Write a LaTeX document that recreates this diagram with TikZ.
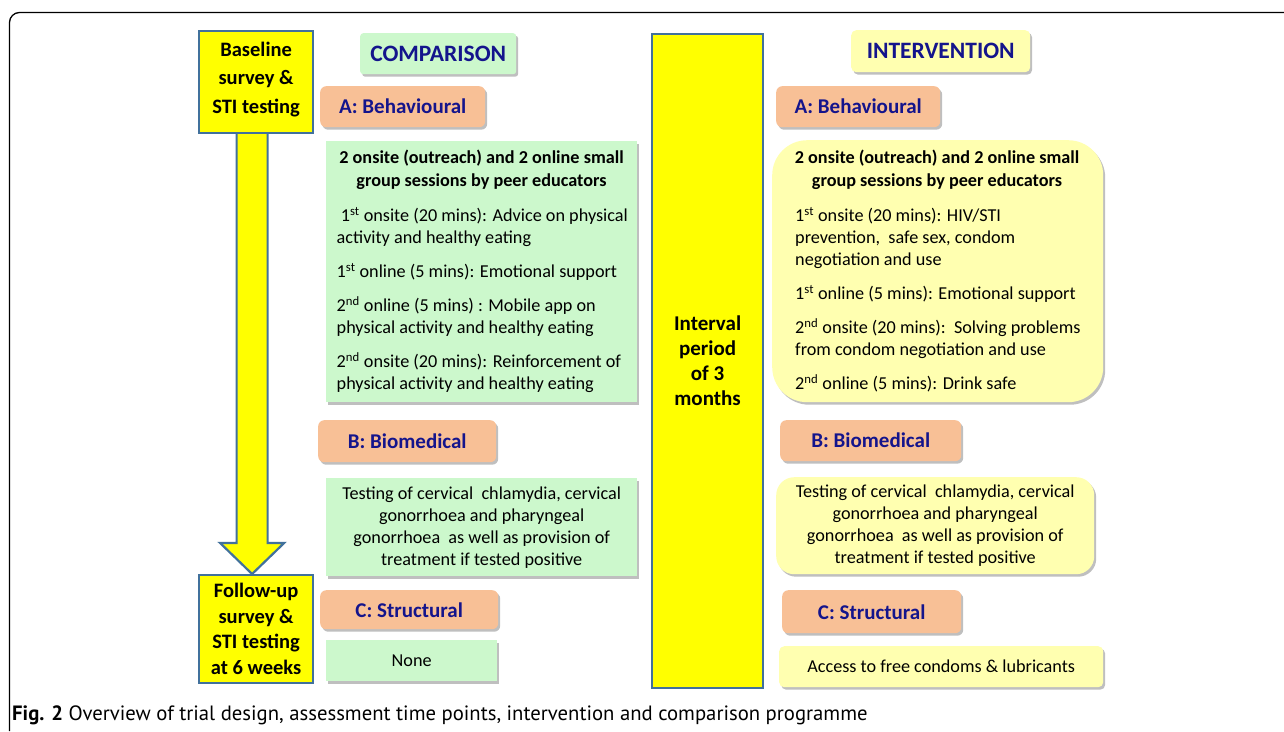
\documentclass[tikz,border=0pt]{standalone}
\usepackage{fontspec}
\setmainfont{Carlito}
\newfontfamily\capfont{PT Sans}
\usetikzlibrary{shadows,calc}
\definecolor{bordblue}{HTML}{41719C}
\definecolor{ltgreen}{HTML}{CCF8CC}
\definecolor{ltyellow}{HTML}{FFFFB0}
\definecolor{salmon}{HTML}{F8C096}
\definecolor{navytxt}{HTML}{14148C}
\definecolor{pureyellow}{HTML}{FFFF00}
\tikzset{
  shad/.style={drop shadow={shadow xshift=2pt,shadow yshift=-2.5pt,opacity=0.25,fill=black}},
  ybox/.style={draw=bordblue,line width=2.2pt,fill=pureyellow,inner sep=0pt,anchor=north west,align=center,font=\fontsize{20.5}{28.5}\selectfont\bfseries},
  hdr/.style={fill=salmon,rounded corners=6pt,shad,inner sep=0pt,anchor=north west,font=\fontsize{21}{24}\selectfont\bfseries,text=navytxt},
  title/.style={rounded corners=3pt,shad,inner sep=0pt,anchor=north west,font=\fontsize{23.5}{26}\selectfont\bfseries,text=navytxt},
  gbox/.style={fill=ltgreen,shad,inner sep=0pt,anchor=north west},
  yrbox/.style={fill=ltyellow,shad,inner sep=0pt,anchor=north west},
  bodytxt/.style={inner sep=0pt,anchor=north west,align=left,font=\fontsize{18.2}{22}\selectfont},
  headtxt/.style={inner sep=0pt,anchor=north,align=center,font=\fontsize{18.2}{23}\selectfont\bfseries},
  ctrtxt/.style={inner sep=0pt,align=center,font=\fontsize{18.2}{22}\selectfont},
  arrowst/.style={draw=bordblue,line width=2.2pt,fill=pureyellow,line join=miter}
}
\begin{document}
\begin{tikzpicture}[x=1pt,y=-1pt]
\useasboundingbox (0,0) rectangle (1284,731);
% outer frame
\draw[line width=1.3pt,rounded corners=10pt] (9.5,731) -- (9.5,12.5) -- (1284,12.5);
% left column time points
\node[ybox,minimum width=114pt,minimum height=102pt,text depth=9pt] (base) at (198,30) {Baseline\\survey \&\\STI testing};
\node[ybox,minimum width=114pt,minimum height=108pt,font=\fontsize{20.5}{25.5}\selectfont\bfseries] (fup) at (198,574) {Follow-up\\survey \&\\STI testing\\at 6 weeks};
\draw[arrowst] ($(base.south)+(-19.5,0)$) -- ($(fup.north)+(-19.5,-31)$) -- ($(fup.north)+(-36,-31)$) -- ($(fup.north)+(-4,0)$) -- ($(fup.north)+(28,-31)$) -- ($(fup.north)+(11.5,-31)$) -- ($(base.south)+(11.5,0)$);
% interval
\node[ybox,minimum width=111pt,minimum height=654pt,font=\fontsize{21}{25}\selectfont\bfseries] (interval) at (651,33) {Interval\\period\\of 3\\months};
% comparison column
\node[title,fill=ltgreen,minimum width=156pt,minimum height=41pt] (comp) at (360,33) {COMPARISON};
\node[hdr,minimum width=165pt,minimum height=41pt] (cA) at (320,86) {A: Behavioural};
\node[gbox,minimum width=311pt,minimum height=261pt] (cAbox) at (326,141) {};
\node[headtxt] (cAh) at (481.5,150) {2 onsite (outreach) and 2 online small\\group sessions by peer educators};
\node[bodytxt] (cAt) at (336.5,207) {\ 1\textsuperscript{st} onsite (20 mins): Advice on physical\\activity and healthy eating\\[12pt]1\textsuperscript{st} online (5 mins): Emotional support\\[12pt]2\textsuperscript{nd} online (5 mins) : Mobile app on\\physical activity and healthy eating\\[12pt]2\textsuperscript{nd} onsite (20 mins): Reinforcement of\\physical activity and healthy eating};
\node[hdr,minimum width=178pt,minimum height=42pt] (cB) at (318,420) {B: Biomedical};
\node[gbox,minimum width=311pt,minimum height=98pt] (cBbox) at (326,478) {};
\node[ctrtxt] (cBt) at (cBbox.center) {Testing of cervical\ \ chlamydia, cervical\\gonorrhoea and pharyngeal\\gonorrhoea\ \ as well as provision of\\treatment if tested positive};
\node[hdr,minimum width=178pt,minimum height=39pt] (cC) at (320,590) {C: Structural};
\node[gbox,minimum width=171pt,minimum height=41pt,font=\fontsize{18.2}{22}\selectfont] (cCbox) at (326,640) {None};
% intervention column
\node[title,fill=ltyellow,minimum width=179pt,minimum height=42pt,rounded corners=5pt] (intv) at (851,30) {INTERVENTION};
\node[hdr,minimum width=164pt,minimum height=41pt] (iA) at (776,86) {A: Behavioural};
\node[yrbox,rounded corners=35pt,minimum width=331pt,minimum height=262pt] (iAbox) at (772,140) {};
\node[headtxt] (iAh) at (937,150) {2 onsite (outreach) and 2 online small\\group sessions by peer educators};
\node[bodytxt] (iAt) at (795,207) {1\textsuperscript{st} onsite (20 mins): HIV/STI\\prevention,\ \ safe sex, condom\\negotiation and use\\[12pt]1\textsuperscript{st} online (5 mins): Emotional support\\[12pt]2\textsuperscript{nd} onsite (20 mins):\ \ Solving problems\\from condom negotiation and use\\[12pt]2\textsuperscript{nd} online (5 mins): Drink safe};
\node[hdr,minimum width=181pt,minimum height=41pt] (iB) at (780,420) {B: Biomedical};
\node[yrbox,rounded corners=18pt,minimum width=318pt,minimum height=97pt] (iBbox) at (776,477) {};
\node[ctrtxt] (iBt) at (iBbox.center) {Testing of cervical\ \ chlamydia, cervical\\gonorrhoea and pharyngeal\\gonorrhoea\ \ as well as provision of\\treatment if tested positive};
\node[hdr,minimum width=179pt,minimum height=43pt] (iC) at (782,590) {C: Structural};
\node[yrbox,rounded corners=5pt,minimum width=324pt,minimum height=41pt,font=\fontsize{18.2}{22}\selectfont] (iCbox) at (779,646) {Access to free condoms \& lubricants};
% caption
\node[anchor=base west,inner sep=0pt,font=\capfont\fontsize{20.7}{24}\selectfont] (cap) at (12,720) {\textbf{Fig. 2} Overview of trial design, assessment time points, intervention and comparison programme};
\end{tikzpicture}
\end{document}
